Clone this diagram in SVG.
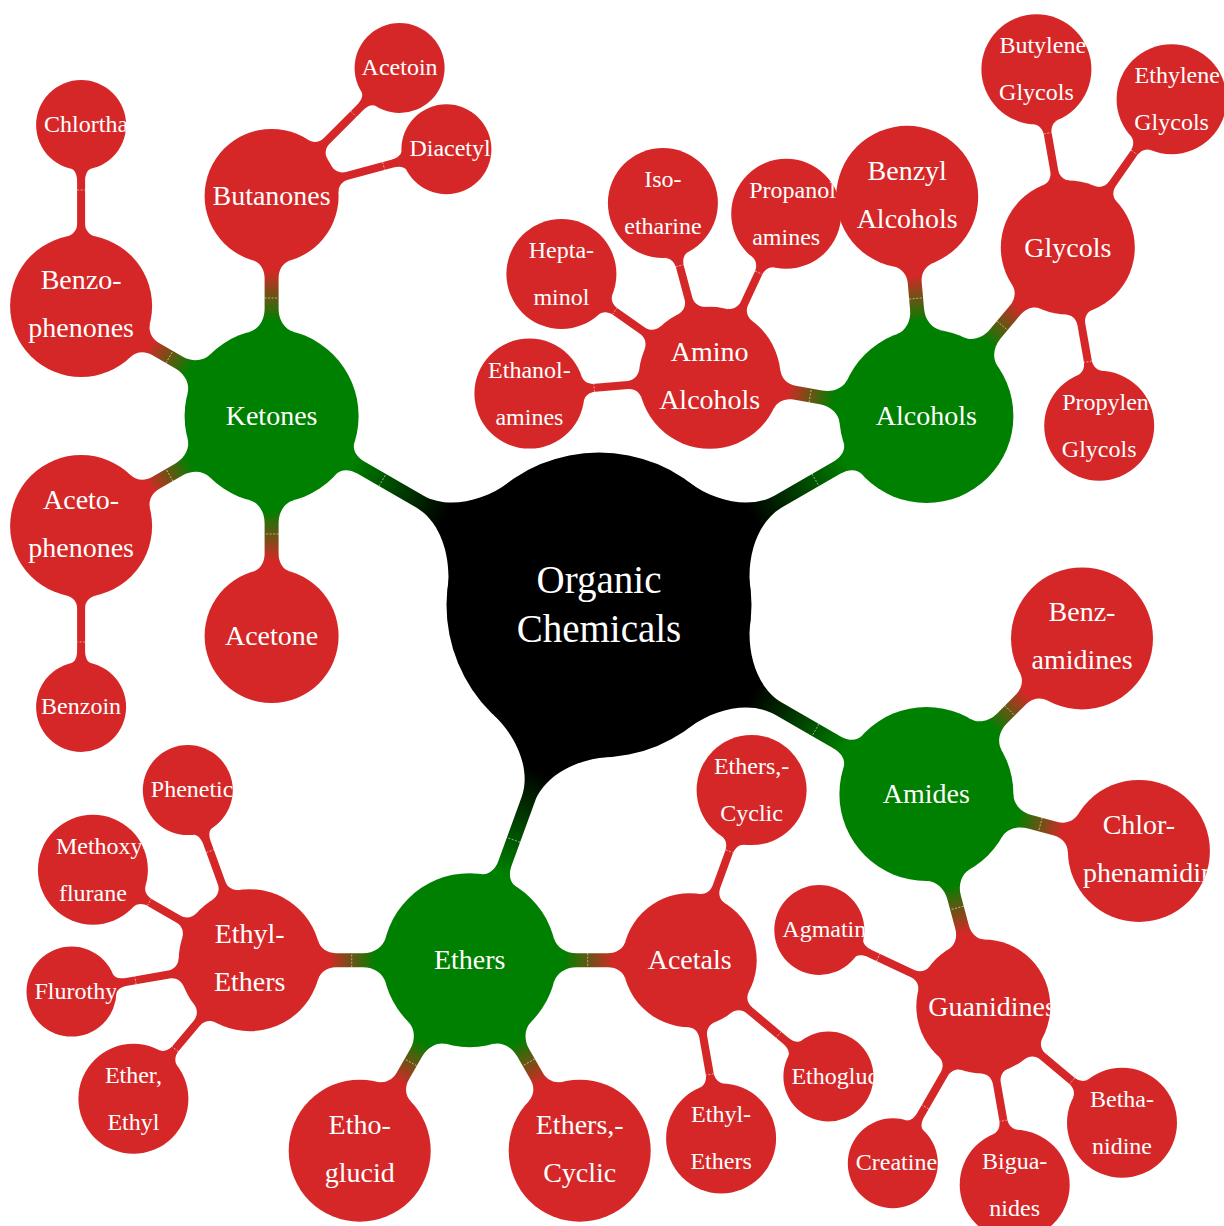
<svg xmlns="http://www.w3.org/2000/svg" width="1224" height="1226" viewBox="0 0 1224 1226">
<style>
.root{fill:#000}
.l1{fill:#008000}
.l2,.l3,.rr{fill:#d62728}
text{font-family:"Liberation Serif","DejaVu Serif",serif;fill:#fff;text-anchor:middle}
.f0{font-size:39px}
.f1{font-size:28px}
.f3{font-size:24px}
.s{text-anchor:start}
.seam{stroke:#fff;stroke-width:0.7;stroke-dasharray:2 1.5;opacity:.75}
.bg{fill:url(#gBG)}
.gr{fill:url(#gGR)}
</style>
<defs>
<linearGradient id="gBG" x1="0" y1="0" x2="1" y2="0"><stop offset="0.25" stop-color="#000"/><stop offset="0.95" stop-color="#008000"/></linearGradient>
<linearGradient id="gGR" x1="0" y1="0" x2="1" y2="0"><stop offset="0.15" stop-color="#008000"/><stop offset="0.85" stop-color="#d62728"/></linearGradient>
<clipPath id="cp-chl"><circle cx="81.1" cy="125" r="45"/></clipPath>
<clipPath id="cp-phe"><circle cx="187.8" cy="790.1" r="45"/></clipPath>
<clipPath id="cp-met"><circle cx="92.9" cy="869.7" r="55"/></clipPath>
<clipPath id="cp-flu"><circle cx="71.5" cy="991.6" r="45"/></clipPath>
<clipPath id="cp-eth"><circle cx="828.4" cy="1076.5" r="45"/></clipPath>
<clipPath id="cp-agm"><circle cx="819.3" cy="930" r="45"/></clipPath>
<clipPath id="cp-gua"><circle cx="983.3" cy="1006.5" r="67"/></clipPath>
<clipPath id="cp-chp"><circle cx="1138.9" cy="850.9" r="71"/></clipPath>
<clipPath id="cp-pro"><circle cx="786.2" cy="213.8" r="55"/></clipPath>
<clipPath id="cp-pry"><circle cx="1099.2" cy="425.7" r="55"/></clipPath>
</defs>

<g id="connectors">
<!-- root to level 1 -->
<g transform="translate(599,605) rotate(210)"><path class="bg" d="M138.9,-61.8C153.5,-28.9 180.8,-7 207,-7L275,-7C284.4,-7 291.5,-11.4 292.9,-18.1L292.9,18.1C291.5,11.4 284.4,7 275,7L207,7C180.8,7 153.5,28.9 138.9,61.8Z"/><line class="seam" x1="250" y1="-7" x2="250" y2="7"/></g>
<g transform="translate(599,605) rotate(-30)"><path class="bg" d="M138.9,-61.8C153.5,-28.9 180.8,-7 207,-7L275,-7C284.4,-7 291.5,-11.4 292.9,-18.1L292.9,18.1C291.5,11.4 284.4,7 275,7L207,7C180.8,7 153.5,28.9 138.9,61.8Z"/><line class="seam" x1="250" y1="-7" x2="250" y2="7"/></g>
<g transform="translate(599,605) rotate(30)"><path class="bg" d="M138.9,-61.8C153.5,-28.9 180.8,-7 207,-7L275,-7C284.4,-7 291.5,-11.4 292.9,-18.1L292.9,18.1C291.5,11.4 284.4,7 275,7L207,7C180.8,7 153.5,28.9 138.9,61.8Z"/><line class="seam" x1="250" y1="-7" x2="250" y2="7"/></g>
<g transform="translate(599,605) rotate(110)"><path class="bg" d="M138.9,-61.8C153.5,-28.9 180.8,-7 207,-7L275,-7C284.4,-7 291.5,-11.4 292.9,-18.1L292.9,18.1C291.5,11.4 284.4,7 275,7L207,7C180.8,7 153.5,28.9 138.9,61.8Z"/><line class="seam" x1="250" y1="-7" x2="250" y2="7"/></g>
<!-- level 1 to level 2 -->
<g transform="translate(271.6,416) rotate(-90)"><path class="gr" d="M84,-22.5C86.5,-13.2 95.7,-7 107,-7L138,-7C146.6,-7 153.6,-11.6 155.6,-18.5L155.6,18.5C153.6,11.6 146.6,7 138,7L107,7C95.7,7 86.5,13.2 84,22.5Z"/><line class="seam" x1="118" y1="-7" x2="118" y2="7"/></g>
<g transform="translate(271.6,416) rotate(90)"><path class="gr" d="M84,-22.5C86.5,-13.2 95.7,-7 107,-7L138,-7C146.6,-7 153.6,-11.6 155.6,-18.5L155.6,18.5C153.6,11.6 146.6,7 138,7L107,7C95.7,7 86.5,13.2 84,22.5Z"/><line class="seam" x1="118" y1="-7" x2="118" y2="7"/></g>
<g transform="translate(271.6,416) rotate(210)"><path class="gr" d="M84,-22.5C86.5,-13.2 95.7,-7 107,-7L134,-7C142.5,-7 149.5,-12 151.7,-19.6L151.7,19.6C149.5,12 142.5,7 134,7L107,7C95.7,7 86.5,13.2 84,22.5Z"/><line class="seam" x1="118" y1="-7" x2="118" y2="7"/></g>
<g transform="translate(271.6,416) rotate(150)"><path class="gr" d="M84,-22.5C86.5,-13.2 95.7,-7 107,-7L134,-7C142.5,-7 149.5,-12 151.7,-19.6L151.7,19.6C149.5,12 142.5,7 134,7L107,7C95.7,7 86.5,13.2 84,22.5Z"/><line class="seam" x1="118" y1="-7" x2="118" y2="7"/></g>
<g transform="translate(926.4,416) rotate(190)"><path class="gr" d="M84,-22.5C86.5,-13.2 95.7,-7 107,-7L134,-7C142.5,-7 149.5,-12 151.7,-19.6L151.7,19.6C149.5,12 142.5,7 134,7L107,7C95.7,7 86.5,13.2 84,22.5Z"/><line class="seam" x1="118" y1="-7" x2="118" y2="7"/></g>
<g transform="translate(926.4,416) rotate(265)"><path class="gr" d="M84,-22.5C86.5,-13.2 95.7,-7 107,-7L134,-7C142.5,-7 149.5,-12 151.7,-19.6L151.7,19.6C149.5,12 142.5,7 134,7L107,7C95.7,7 86.5,13.2 84,22.5Z"/><line class="seam" x1="118" y1="-7" x2="118" y2="7"/></g>
<g transform="translate(926.4,416) rotate(310)"><path class="gr" d="M84,-22.5C86.5,-13.2 95.7,-7 107,-7L138,-7C146.6,-7 153.6,-11.6 155.6,-18.5L155.6,18.5C153.6,11.6 146.6,7 138,7L107,7C95.7,7 86.5,13.2 84,22.5Z"/><line class="seam" x1="118" y1="-7" x2="118" y2="7"/></g>
<g transform="translate(926.4,794) rotate(-45)"><path class="gr" d="M84,-22.5C86.5,-13.2 95.7,-7 107,-7L134,-7C142.5,-7 149.5,-12 151.7,-19.6L151.7,19.6C149.5,12 142.5,7 134,7L107,7C95.7,7 86.5,13.2 84,22.5Z"/><line class="seam" x1="118" y1="-7" x2="118" y2="7"/></g>
<g transform="translate(926.4,794) rotate(15)"><path class="gr" d="M84,-22.5C86.5,-13.2 95.7,-7 107,-7L134,-7C142.5,-7 149.5,-12 151.7,-19.6L151.7,19.6C149.5,12 142.5,7 134,7L107,7C95.7,7 86.5,13.2 84,22.5Z"/><line class="seam" x1="118" y1="-7" x2="118" y2="7"/></g>
<g transform="translate(926.4,794) rotate(75)"><path class="gr" d="M84,-22.5C86.5,-13.2 95.7,-7 107,-7L138,-7C146.6,-7 153.6,-11.6 155.6,-18.5L155.6,18.5C153.6,11.6 146.6,7 138,7L107,7C95.7,7 86.5,13.2 84,22.5Z"/><line class="seam" x1="118" y1="-7" x2="118" y2="7"/></g>
<g transform="translate(469.7,960.2) rotate(180)"><path class="gr" d="M84,-22.5C86.5,-13.2 95.7,-7 107,-7L134,-7C142.5,-7 149.5,-12 151.7,-19.6L151.7,19.6C149.5,12 142.5,7 134,7L107,7C95.7,7 86.5,13.2 84,22.5Z"/><line class="seam" x1="118" y1="-7" x2="118" y2="7"/></g>
<g transform="translate(469.7,960.2) rotate(120)"><path class="gr" d="M84,-22.5C86.5,-13.2 95.7,-7 107,-7L134,-7C142.5,-7 149.5,-12 151.7,-19.6L151.7,19.6C149.5,12 142.5,7 134,7L107,7C95.7,7 86.5,13.2 84,22.5Z"/><line class="seam" x1="118" y1="-7" x2="118" y2="7"/></g>
<g transform="translate(469.7,960.2) rotate(60)"><path class="gr" d="M84,-22.5C86.5,-13.2 95.7,-7 107,-7L134,-7C142.5,-7 149.5,-12 151.7,-19.6L151.7,19.6C149.5,12 142.5,7 134,7L107,7C95.7,7 86.5,13.2 84,22.5Z"/><line class="seam" x1="118" y1="-7" x2="118" y2="7"/></g>
<g transform="translate(469.7,960.2) rotate(0)"><path class="gr" d="M84,-22.5C86.5,-13.2 95.7,-7 107,-7L138,-7C146.6,-7 153.6,-11.6 155.6,-18.5L155.6,18.5C153.6,11.6 146.6,7 138,7L107,7C95.7,7 86.5,13.2 84,22.5Z"/><line class="seam" x1="118" y1="-7" x2="118" y2="7"/></g>
<!-- level 2 to level 3 -->
<g transform="translate(81.1,306) rotate(-90)"><path class="rr" d="M69.4,-14.8C70.8,-8.3 75.8,-4 82,-4L125,-4C131.5,-4 136.3,-6.4 137.2,-10.1L137.2,10.1C136.3,6.4 131.5,4 125,4L82,4C75.8,4 70.8,8.3 69.4,14.8Z"/><line class="seam" x1="116" y1="-4" x2="116" y2="4"/></g>
<g transform="translate(81.1,526) rotate(90)"><path class="rr" d="M69.4,-14.8C70.8,-8.3 75.8,-4 82,-4L125,-4C131.5,-4 136.3,-6.4 137.2,-10.1L137.2,10.1C136.3,6.4 131.5,4 125,4L82,4C75.8,4 70.8,8.3 69.4,14.8Z"/><line class="seam" x1="116" y1="-4" x2="116" y2="4"/></g>
<g transform="translate(271.6,196) rotate(-45)"><path class="rr" d="M65.5,-13.9C66.8,-7.9 71.8,-4 78,-4L125,-4C131.5,-4 136.3,-6.4 137.2,-10.1L137.2,10.1C136.3,6.4 131.5,4 125,4L78,4C71.8,4 66.8,7.9 65.5,13.9Z"/><line class="seam" x1="116" y1="-4" x2="116" y2="4"/></g>
<g transform="translate(271.6,196) rotate(-15)"><path class="rr" d="M65.5,-13.9C66.8,-7.9 71.8,-4 78,-4L125,-4C131.5,-4 136.3,-6.4 137.2,-10.1L137.2,10.1C136.3,6.4 131.5,4 125,4L78,4C71.8,4 66.8,7.9 65.5,13.9Z"/><line class="seam" x1="116" y1="-4" x2="116" y2="4"/></g>
<g transform="translate(709.7,377.8) rotate(175)"><path class="rr" d="M69.4,-14.8C70.8,-8.3 75.8,-4 82,-4L115,-4C121.3,-4 126.2,-7.3 127.4,-12.4L127.4,12.4C126.2,7.3 121.3,4 115,4L82,4C75.8,4 70.8,8.3 69.4,14.8Z"/><line class="seam" x1="116" y1="-4" x2="116" y2="4"/></g>
<g transform="translate(709.7,377.8) rotate(215)"><path class="rr" d="M69.4,-14.8C70.8,-8.3 75.8,-4 82,-4L115,-4C121.3,-4 126.2,-7.3 127.4,-12.4L127.4,12.4C126.2,7.3 121.3,4 115,4L82,4C75.8,4 70.8,8.3 69.4,14.8Z"/><line class="seam" x1="116" y1="-4" x2="116" y2="4"/></g>
<g transform="translate(709.7,377.8) rotate(255)"><path class="rr" d="M69.4,-14.8C70.8,-8.3 75.8,-4 82,-4L115,-4C121.3,-4 126.2,-7.3 127.4,-12.4L127.4,12.4C126.2,7.3 121.3,4 115,4L82,4C75.8,4 70.8,8.3 69.4,14.8Z"/><line class="seam" x1="116" y1="-4" x2="116" y2="4"/></g>
<g transform="translate(709.7,377.8) rotate(295)"><path class="rr" d="M69.4,-14.8C70.8,-8.3 75.8,-4 82,-4L115,-4C121.3,-4 126.2,-7.3 127.4,-12.4L127.4,12.4C126.2,7.3 121.3,4 115,4L82,4C75.8,4 70.8,8.3 69.4,14.8Z"/><line class="seam" x1="116" y1="-4" x2="116" y2="4"/></g>
<g transform="translate(1067.8,247.5) rotate(260)"><path class="rr" d="M65.5,-13.9C66.8,-7.9 71.8,-4 78,-4L115,-4C121.3,-4 126.2,-7.3 127.4,-12.4L127.4,12.4C126.2,7.3 121.3,4 115,4L78,4C71.8,4 66.8,7.9 65.5,13.9Z"/><line class="seam" x1="116" y1="-4" x2="116" y2="4"/></g>
<g transform="translate(1067.8,247.5) rotate(305)"><path class="rr" d="M65.5,-13.9C66.8,-7.9 71.8,-4 78,-4L115,-4C121.3,-4 126.2,-7.3 127.4,-12.4L127.4,12.4C126.2,7.3 121.3,4 115,4L78,4C71.8,4 66.8,7.9 65.5,13.9Z"/><line class="seam" x1="116" y1="-4" x2="116" y2="4"/></g>
<g transform="translate(1067.8,247.5) rotate(80)"><path class="rr" d="M65.5,-13.9C66.8,-7.9 71.8,-4 78,-4L115,-4C121.3,-4 126.2,-7.3 127.4,-12.4L127.4,12.4C126.2,7.3 121.3,4 115,4L78,4C71.8,4 66.8,7.9 65.5,13.9Z"/><line class="seam" x1="116" y1="-4" x2="116" y2="4"/></g>
<g transform="translate(983.3,1006.5) rotate(205)"><path class="rr" d="M65.5,-13.9C66.8,-7.9 71.8,-4 78,-4L125,-4C131.5,-4 136.3,-6.4 137.2,-10.1L137.2,10.1C136.3,6.4 131.5,4 125,4L78,4C71.8,4 66.8,7.9 65.5,13.9Z"/><line class="seam" x1="116" y1="-4" x2="116" y2="4"/></g>
<g transform="translate(983.3,1006.5) rotate(120)"><path class="rr" d="M65.5,-13.9C66.8,-7.9 71.8,-4 78,-4L125,-4C131.5,-4 136.3,-6.4 137.2,-10.1L137.2,10.1C136.3,6.4 131.5,4 125,4L78,4C71.8,4 66.8,7.9 65.5,13.9Z"/><line class="seam" x1="116" y1="-4" x2="116" y2="4"/></g>
<g transform="translate(983.3,1006.5) rotate(80)"><path class="rr" d="M65.5,-13.9C66.8,-7.9 71.8,-4 78,-4L115,-4C121.3,-4 126.2,-7.3 127.4,-12.4L127.4,12.4C126.2,7.3 121.3,4 115,4L78,4C71.8,4 66.8,7.9 65.5,13.9Z"/><line class="seam" x1="116" y1="-4" x2="116" y2="4"/></g>
<g transform="translate(983.3,1006.5) rotate(40)"><path class="rr" d="M65.5,-13.9C66.8,-7.9 71.8,-4 78,-4L115,-4C121.3,-4 126.2,-7.3 127.4,-12.4L127.4,12.4C126.2,7.3 121.3,4 115,4L78,4C71.8,4 66.8,7.9 65.5,13.9Z"/><line class="seam" x1="116" y1="-4" x2="116" y2="4"/></g>
<g transform="translate(249.7,960.2) rotate(250)"><path class="rr" d="M69.4,-14.8C70.8,-8.3 75.8,-4 82,-4L125,-4C131.5,-4 136.3,-6.4 137.2,-10.1L137.2,10.1C136.3,6.4 131.5,4 125,4L82,4C75.8,4 70.8,8.3 69.4,14.8Z"/><line class="seam" x1="116" y1="-4" x2="116" y2="4"/></g>
<g transform="translate(249.7,960.2) rotate(210)"><path class="rr" d="M69.4,-14.8C70.8,-8.3 75.8,-4 82,-4L115,-4C121.3,-4 126.2,-7.3 127.4,-12.4L127.4,12.4C126.2,7.3 121.3,4 115,4L82,4C75.8,4 70.8,8.3 69.4,14.8Z"/><line class="seam" x1="116" y1="-4" x2="116" y2="4"/></g>
<g transform="translate(249.7,960.2) rotate(170)"><path class="rr" d="M69.4,-14.8C70.8,-8.3 75.8,-4 82,-4L125,-4C131.5,-4 136.3,-6.4 137.2,-10.1L137.2,10.1C136.3,6.4 131.5,4 125,4L82,4C75.8,4 70.8,8.3 69.4,14.8Z"/><line class="seam" x1="116" y1="-4" x2="116" y2="4"/></g>
<g transform="translate(249.7,960.2) rotate(130)"><path class="rr" d="M69.4,-14.8C70.8,-8.3 75.8,-4 82,-4L115,-4C121.3,-4 126.2,-7.3 127.4,-12.4L127.4,12.4C126.2,7.3 121.3,4 115,4L82,4C75.8,4 70.8,8.3 69.4,14.8Z"/><line class="seam" x1="116" y1="-4" x2="116" y2="4"/></g>
<g transform="translate(689.7,960.2) rotate(290)"><path class="rr" d="M65.5,-13.9C66.8,-7.9 71.8,-4 78,-4L115,-4C121.3,-4 126.2,-7.3 127.4,-12.4L127.4,12.4C126.2,7.3 121.3,4 115,4L78,4C71.8,4 66.8,7.9 65.5,13.9Z"/><line class="seam" x1="116" y1="-4" x2="116" y2="4"/></g>
<g transform="translate(689.7,960.2) rotate(80)"><path class="rr" d="M65.5,-13.9C66.8,-7.9 71.8,-4 78,-4L115,-4C121.3,-4 126.2,-7.3 127.4,-12.4L127.4,12.4C126.2,7.3 121.3,4 115,4L78,4C71.8,4 66.8,7.9 65.5,13.9Z"/><line class="seam" x1="116" y1="-4" x2="116" y2="4"/></g>
<g transform="translate(689.7,960.2) rotate(40)"><path class="rr" d="M65.5,-13.9C66.8,-7.9 71.8,-4 78,-4L125,-4C131.5,-4 136.3,-6.4 137.2,-10.1L137.2,10.1C136.3,6.4 131.5,4 125,4L78,4C71.8,4 66.8,7.9 65.5,13.9Z"/><line class="seam" x1="116" y1="-4" x2="116" y2="4"/></g>
</g>

<!-- root -->
<g id="n-root"><circle class="root" cx="599" cy="605" r="152.5"/><text class="f0" x="599" y="593">Organic</text><text class="f0" x="599" y="642">Chemicals</text></g>

<!-- level 1 -->
<g id="n-ketones"><circle class="l1" cx="271.6" cy="416" r="87"/><text class="f1" x="271.6" y="425">Ketones</text></g>
<g id="n-alcohols"><circle class="l1" cx="926.4" cy="416" r="87"/><text class="f1" x="926.4" y="425">Alcohols</text></g>
<g id="n-amides"><circle class="l1" cx="926.4" cy="794" r="87"/><text class="f1" x="926.4" y="803">Amides</text></g>
<g id="n-ethers"><circle class="l1" cx="469.7" cy="960.2" r="87"/><text class="f1" x="469.7" y="969.2">Ethers</text></g>

<!-- level 2 -->
<g id="n-butanones"><circle class="l2" cx="271.6" cy="196" r="67"/><text class="f1" x="271.6" y="205">Butanones</text></g>
<g id="n-acetone"><circle class="l2" cx="271.6" cy="636" r="67"/><text class="f1" x="271.6" y="645">Acetone</text></g>
<g id="n-benzophenones"><circle class="l2" cx="81.1" cy="306" r="71"/><text class="f1" x="81.1" y="289">Benzo-</text><text class="f1" x="81.1" y="337">phenones</text></g>
<g id="n-acetophenones"><circle class="l2" cx="81.1" cy="526" r="71"/><text class="f1" x="81.1" y="509">Aceto-</text><text class="f1" x="81.1" y="557">phenones</text></g>
<g id="n-aminoalcohols"><circle class="l2" cx="709.7" cy="377.8" r="71"/><text class="f1" x="709.7" y="360.8">Amino</text><text class="f1" x="709.7" y="408.8">Alcohols</text></g>
<g id="n-benzylalcohols"><circle class="l2" cx="907.2" cy="196.8" r="71"/><text class="f1" x="907.2" y="179.8">Benzyl</text><text class="f1" x="907.2" y="227.8">Alcohols</text></g>
<g id="n-glycols"><circle class="l2" cx="1067.8" cy="247.5" r="67"/><text class="f1" x="1067.8" y="256.5">Glycols</text></g>
<g id="n-benzamidines"><circle class="l2" cx="1082" cy="638.4" r="71"/><text class="f1" x="1082" y="621.4">Benz-</text><text class="f1" x="1082" y="669.4">amidines</text></g>
<g id="n-chlorphenamidine"><circle class="l2" cx="1138.9" cy="850.9" r="71"/><g clip-path="url(#cp-chp)"><text class="f1" x="1138.9" y="833.9">Chlor-</text><text class="f1 s" x="1082.9" y="881.9">phenamidin</text></g></g>
<g id="n-guanidines"><circle class="l2" cx="983.3" cy="1006.5" r="67"/><g clip-path="url(#cp-gua)"><text class="f1 s" x="928.3" y="1015.5">Guanidines</text></g></g>
<g id="n-ethylethers"><circle class="l2" cx="249.7" cy="960.2" r="71"/><text class="f1" x="249.7" y="943.2">Ethyl-</text><text class="f1" x="249.7" y="991.2">Ethers</text></g>
<g id="n-ethoglucid"><circle class="l2" cx="359.7" cy="1150.7" r="71"/><text class="f1" x="359.7" y="1133.7">Etho-</text><text class="f1" x="359.7" y="1181.7">glucid</text></g>
<g id="n-etherscyclic"><circle class="l2" cx="579.7" cy="1150.7" r="71"/><text class="f1" x="579.7" y="1133.7">Ethers,-</text><text class="f1" x="579.7" y="1181.7">Cyclic</text></g>
<g id="n-acetals"><circle class="l2" cx="689.7" cy="960.2" r="67"/><text class="f1" x="689.7" y="969.2">Acetals</text></g>

<!-- level 3 -->
<g id="n-chlortha"><circle class="l3" cx="81.1" cy="125" r="45"/><g clip-path="url(#cp-chl)"><text class="f3 s" x="44.1" y="132">Chlortha</text></g></g>
<g id="n-benzoin"><circle class="l3" cx="81.1" cy="707" r="45"/><text class="f3" x="81.1" y="714">Benzoin</text></g>
<g id="n-acetoin"><circle class="l3" cx="399.6" cy="68" r="45"/><text class="f3" x="399.6" y="75">Acetoin</text></g>
<g id="n-diacetyl"><circle class="l3" cx="446.4" cy="149.2" r="45"/><text class="f3 s" x="409.4" y="156.2">Diacetyl</text></g>
<g id="n-ethanolamines"><circle class="l3" cx="529.4" cy="393.6" r="55"/><text class="f3" x="529.4" y="377.6">Ethanol-</text><text class="f3" x="529.4" y="424.6">amines</text></g>
<g id="n-heptaminol"><circle class="l3" cx="561.4" cy="274" r="55"/><text class="f3" x="561.4" y="258">Hepta-</text><text class="f3" x="561.4" y="305">minol</text></g>
<g id="n-isoetharine"><circle class="l3" cx="662.9" cy="203" r="55"/><text class="f3" x="662.9" y="187">Iso-</text><text class="f3" x="662.9" y="234">etharine</text></g>
<g id="n-propanolamines"><circle class="l3" cx="786.2" cy="213.8" r="55"/><g clip-path="url(#cp-pro)"><text class="f3 s" x="749.2" y="197.8">Propanol</text><text class="f3" x="786.2" y="244.8">amines</text></g></g>
<g id="n-butyleneglycols"><circle class="l3" cx="1036.4" cy="69.3" r="55"/><text class="f3 s" x="999.4" y="53.3">Butylene</text><text class="f3" x="1036.4" y="100.3">Glycols</text></g>
<g id="n-ethyleneglycols"><circle class="l3" cx="1171.6" cy="99.2" r="55"/><text class="f3 s" x="1134.6" y="83.2">Ethylene</text><text class="f3" x="1171.6" y="130.2">Glycols</text></g>
<g id="n-propyleneglycols"><circle class="l3" cx="1099.2" cy="425.7" r="55"/><g clip-path="url(#cp-pry)"><text class="f3 s" x="1062.2" y="409.7">Propylen</text><text class="f3" x="1099.2" y="456.7">Glycols</text></g></g>
<g id="n-agmatine"><circle class="l3" cx="819.3" cy="930" r="45"/><g clip-path="url(#cp-agm)"><text class="f3 s" x="782.3" y="937">Agmatin</text></g></g>
<g id="n-creatine"><circle class="l3" cx="892.8" cy="1163.3" r="45"/><text class="f3 s" x="855.8" y="1170.3">Creatine</text></g>
<g id="n-biguanides"><circle class="l3" cx="1014.7" cy="1184.7" r="55"/><text class="f3" x="1014.7" y="1168.7">Bigua-</text><text class="f3" x="1014.7" y="1215.7">nides</text></g>
<g id="n-bethanidine"><circle class="l3" cx="1122" cy="1122.8" r="55"/><text class="f3" x="1122" y="1106.8">Betha-</text><text class="f3" x="1122" y="1153.8">nidine</text></g>
<g id="n-phenetic"><circle class="l3" cx="187.8" cy="790.1" r="45"/><g clip-path="url(#cp-phe)"><text class="f3 s" x="150.8" y="797.1">Phenetic</text></g></g>
<g id="n-methoxyflurane"><circle class="l3" cx="92.9" cy="869.7" r="55"/><g clip-path="url(#cp-met)"><text class="f3 s" x="55.9" y="853.7">Methoxy-</text><text class="f3" x="92.9" y="900.7">flurane</text></g></g>
<g id="n-flurothyl"><circle class="l3" cx="71.5" cy="991.6" r="45"/><g clip-path="url(#cp-flu)"><text class="f3 s" x="34.5" y="998.6">Flurothy</text></g></g>
<g id="n-etherethyl"><circle class="l3" cx="133.4" cy="1098.8" r="55"/><text class="f3" x="133.4" y="1082.8">Ether,</text><text class="f3" x="133.4" y="1129.8">Ethyl</text></g>
<g id="n-etherscyclic3"><circle class="l3" cx="751.6" cy="790.1" r="55"/><text class="f3" x="751.6" y="774.1">Ethers,-</text><text class="f3" x="751.6" y="821.1">Cyclic</text></g>
<g id="n-ethylethers3"><circle class="l3" cx="721.1" cy="1138.4" r="55"/><text class="f3" x="721.1" y="1122.4">Ethyl-</text><text class="f3" x="721.1" y="1169.4">Ethers</text></g>
<g id="n-ethogluc"><circle class="l3" cx="828.4" cy="1076.5" r="45"/><g clip-path="url(#cp-eth)"><text class="f3 s" x="791.4" y="1083.5">Ethogluc</text></g></g>
</svg>
